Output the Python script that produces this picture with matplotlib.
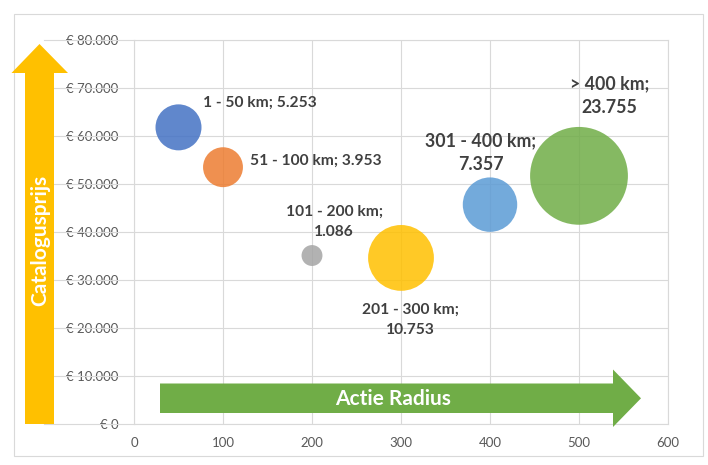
import matplotlib
matplotlib.use("Agg")
import matplotlib.pyplot as plt
from matplotlib.patches import Polygon, Rectangle
from matplotlib.lines import Line2D
from matplotlib.ticker import FuncFormatter
import matplotlib.transforms as mtransforms

# ---- data ----
categories = ["1 - 50 km", "51 - 100 km", "101 - 200 km", "201 - 300 km", "301 - 400 km", "> 400 km"]
radius = [50, 100, 200, 300, 400, 500]
price = [61800, 53500, 35100, 34600, 45700, 51700]
counts = [5253, 3953, 1086, 10753, 7357, 23755]
colors = ["#4472C4", "#ED7D31", "#A5A5A5", "#FFC000", "#5B9BD5", "#70AD47"]
x_ticks = [0, 100, 200, 300, 400, 500, 600]
y_ticks = [0, 10000, 20000, 30000, 40000, 50000, 60000, 70000, 80000]

W, H = 708, 465
fig = plt.figure(figsize=(W / 100, H / 100), dpi=100)
fig.patch.set_facecolor("white")

def fx(px):
    return px / W

def fy(py):
    return 1 - py / H

L, R, T, B = 134, 668, 40, 424
ax = fig.add_axes([fx(L), fy(B), fx(R) - fx(L), fy(T) - fy(B)])
ax.set_xlim(0, 600)
ax.set_ylim(0, 80000)
ax.set_xticks(x_ticks)
ax.set_yticks(y_ticks)
grid_c = "#D9D9D9"
ax.grid(True, color=grid_c, linewidth=0.8, zorder=0)
ax.set_axisbelow(True)
for sp in ax.spines.values():
    sp.set_color(grid_c)
    sp.set_linewidth(0.8)

def eur(v, pos):
    s = f"{int(v):,}".replace(",", ".")
    return f"€ {s}"

ax.yaxis.set_major_formatter(FuncFormatter(eur))
ax.tick_params(axis="both", length=0, labelcolor="#595959", labelsize=9.5)
ax.tick_params(axis="y", pad=11)
ax.tick_params(axis="x", pad=9)
for lab in ax.get_xticklabels() + ax.get_yticklabels():
    lab.set_fontfamily("Lato")

# bubbles: area proportional to count
scale = 0.2088
ax.scatter(radius, price, s=[c * scale for c in counts], c=colors, alpha=0.85,
           edgecolors="none", zorder=3)

# labels
small, big = 11.2, 12.8
offsets = [(17.3, 18.0), (19.6, 4.5), (16.0, 24.0), (6.5, -44.6), (-6.6, 37.2), (22.0, 57.5)]
sizes_f = [small, small, small, small, big, big]
spacing = [1.6, 1.6, 1.6, 1.6, 1.5, 1.5]
ha_list = ["left", "left", "center", "center", "center", "center"]
for i, cat in enumerate(categories):
    val = f"{counts[i]:,}".replace(",", ".")
    if i < 2:
        txt = f"{cat}; {val}"
    else:
        txt = f"{cat};\n{val}"
    ax.annotate(txt, (radius[i], price[i]), xytext=offsets[i], textcoords="offset points",
                ha=ha_list[i], va="center", fontsize=sizes_f[i], fontweight="bold",
                color="#404040", family="Lato", linespacing=spacing[i], zorder=5,
                multialignment="center")

# extended horizontal gridlines to the left of the plot area
blend = mtransforms.blended_transform_factory(fig.transFigure, ax.transData)
for yv in y_ticks:
    fig.add_artist(Line2D([fx(44), fx(L)], [yv, yv], transform=blend, color=grid_c,
                          linewidth=0.8, zorder=0.5))

# chart border
fig.add_artist(Rectangle((fx(14), fy(456)), fx(703) - fx(14), fy(14) - fy(456),
                         transform=fig.transFigure, fill=False, edgecolor=grid_c,
                         linewidth=0.8, zorder=0.4))

# yellow vertical arrow
ya = [(25, 424), (54, 424), (54, 73), (68, 73), (39.5, 44), (11.5, 73), (25, 73)]
fig.add_artist(Polygon([(fx(a), fy(b)) for a, b in ya], closed=True, transform=fig.transFigure,
                       facecolor="#FFC000", edgecolor="none", zorder=1))
fig.text(fx(40), fy(240), "Catalogusprijs", rotation=90, ha="center", va="center",
         color="white", fontsize=15, fontweight="bold", family="Lato", zorder=2)

# green horizontal arrow
ga = [(160, 383.5), (613, 383.5), (613, 369.5), (641, 398.3), (613, 427), (613, 413), (160, 413)]
fig.add_artist(Polygon([(fx(a), fy(b)) for a, b in ga], closed=True, transform=fig.transFigure,
                       facecolor="#70AD47", edgecolor="none", zorder=1))
fig.text(fx(393), fy(399), "Actie Radius", ha="center", va="center",
         color="white", fontsize=15, fontweight="bold", family="Lato", zorder=2)

fig.savefig("out.png", dpi=100)
